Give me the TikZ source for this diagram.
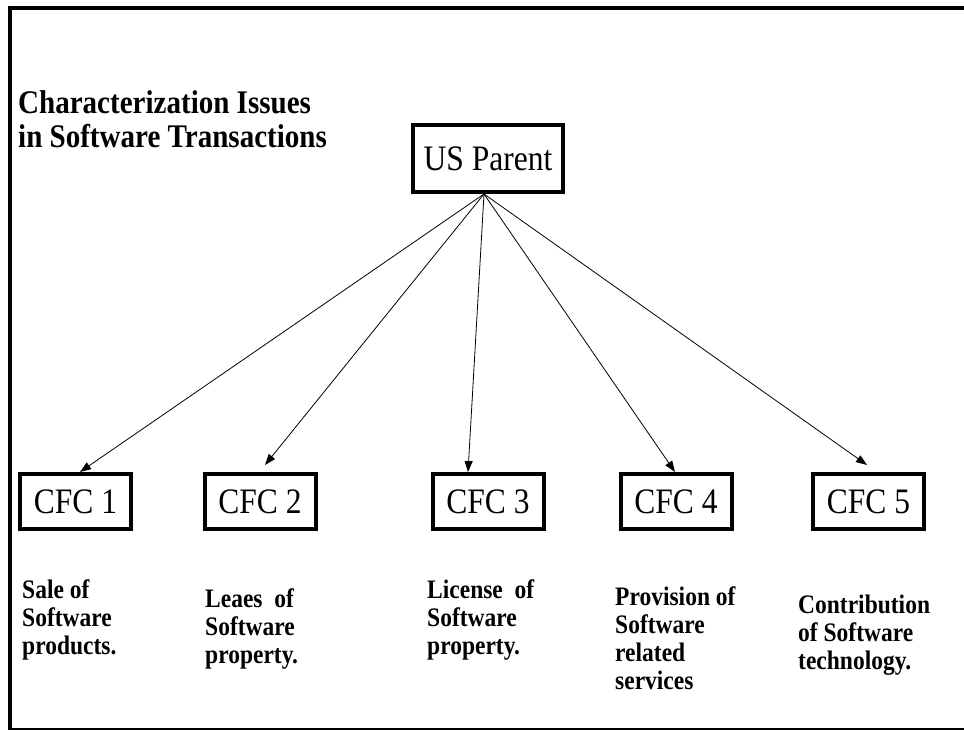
\documentclass[tikz,border=0pt]{standalone}
\usepackage{fontspec}
\setmainfont[FakeStretch=0.88]{Liberation Serif}
\usetikzlibrary{arrows.meta, positioning}
\tikzstyle{box} = [draw,line width=4pt,text centered,inner sep=0pt,font=\fontsize{35.8}{40}\selectfont]
\tikzstyle{cfc} = [box,minimum width=111pt,minimum height=55pt]
\tikzstyle{note} = [anchor=north west,align=left,inner sep=0pt,font=\fontsize{26.7}{28}\selectfont\bfseries]
\tikzstyle{link} = [-{Triangle[length=11pt,width=8pt]},line width=0.8pt]

\begin{document}
\begin{tikzpicture}

	\useasboundingbox (0,0) rectangle (964pt,730pt);
	\draw[line width=4.5pt,line join=miter] (964pt,722pt) -- (10pt,722pt) -- (10pt,0pt);
	\draw[line width=1.5pt] (10pt,1pt) -- (964pt,1pt);

	\node[anchor=north west,align=left,inner sep=0pt,font=\fontsize{33}{34}\selectfont\bfseries](title) at (18pt,640pt) {Characterization Issues\\in Software Transactions};

	\node[box,minimum width=150pt,minimum height=67pt](p) at (488pt,571.5pt) {US Parent};
	\node[cfc,below of=p,node distance=343pt](c3) {CFC 3};
	\node[cfc,left of=c3,node distance=228pt](c2) {CFC 2};
	\node[cfc,left of=c2,node distance=184.5pt](c1) {CFC 1};
	\node[cfc,right of=c3,node distance=188pt](c4) {CFC 4};
	\node[cfc,right of=c4,node distance=192.5pt](c5) {CFC 5};

	\draw[link] ([xshift=-4pt]p.south) -- ([xshift=4.5pt]c1.north);
	\draw[link] ([xshift=-4pt]p.south) -- ([xshift=5pt,yshift=7pt]c2.north);
	\draw[link] ([xshift=-4pt]p.south) -- ([xshift=-20pt]c3.north);
	\draw[link] ([xshift=-4pt]p.south) -- ([xshift=-1pt]c4.north);
	\draw[link] ([xshift=-4pt]p.south) -- ([xshift=-1.5pt,yshift=7pt]c5.north);

	\node[note](t1) at (22pt,150pt) {Sale of\\Software\\products.};
	\node[note](t2) at (205pt,141pt) {Leaes\ \ of\\Software\\property.};
	\node[note](t3) at (427pt,150pt) {License\ \ of\\Software\\property.};
	\node[note](t4) at (615pt,143pt) {Provision of\\Software\\related\\services};
	\node[note](t5) at (798pt,135pt) {Contribution\\of Software\\technology.};

\end{tikzpicture}
\end{document}
